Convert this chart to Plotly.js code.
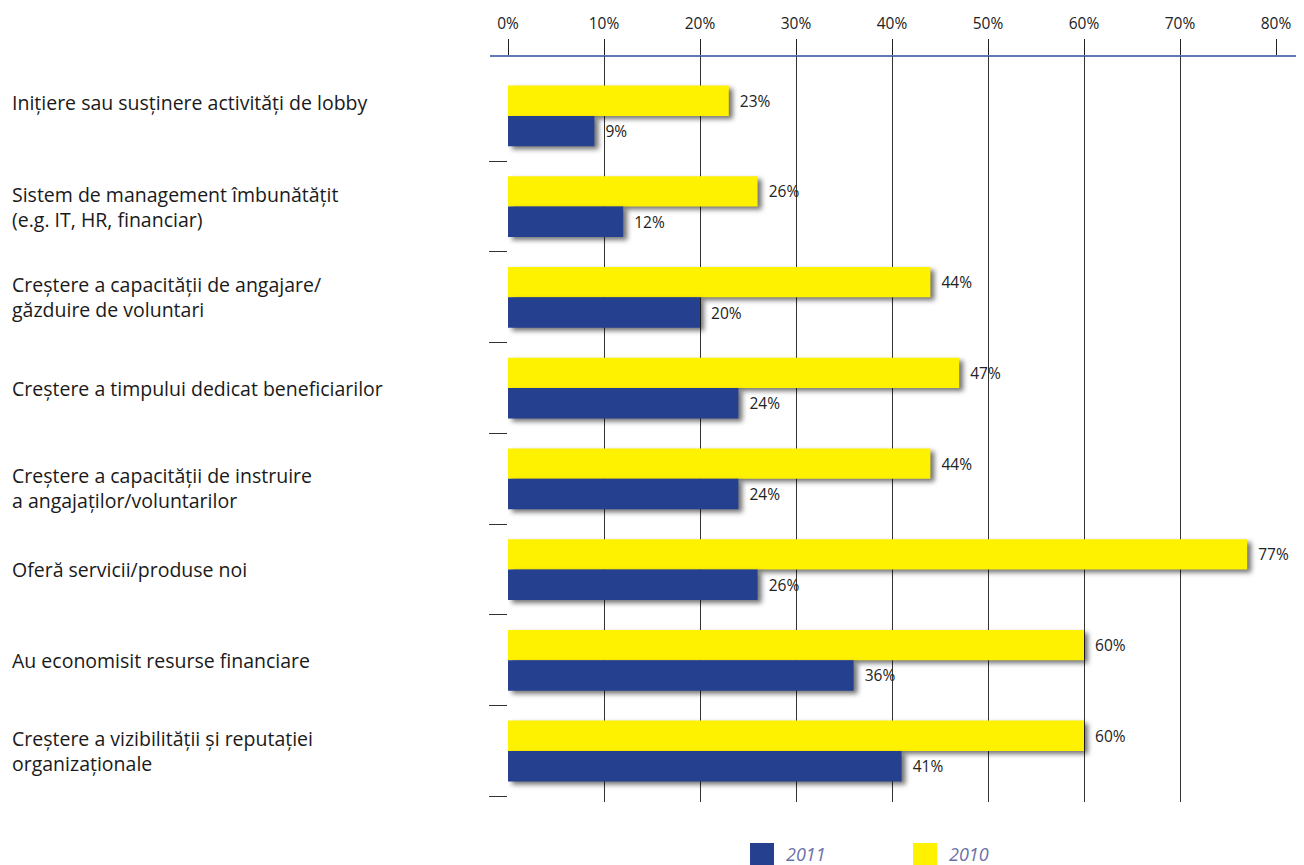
<!DOCTYPE html>
<html>
<head>
<meta charset="utf-8">
<script src="https://cdn.plot.ly/plotly-3.0.1.min.js"></script>
<style>
  html, body { margin: 0; padding: 0; background: #fff; }
  #chart { width: 1304px; height: 865px; }
  .barlayer .point path { filter: drop-shadow(4px 3px 2.5px rgba(0,0,0,0.55)); }
</style>
</head>
<body>
<div id="chart"></div>
<script>
// ---- data ----
const categories = [
  "Inițiere sau susținere activități de lobby",
  "Sistem de management îmbunătățit<br>(e.g. IT, HR, financiar)",
  "Creștere a capacității de angajare/<br>găzduire de voluntari",
  "Creștere a timpului dedicat beneficiarilor",
  "Creștere a capacității de instruire<br>a angajaților/voluntarilor",
  "Oferă servicii/produse noi",
  "Au economisit resurse financiare",
  "Creștere a vizibilității și reputației<br>organizaționale"
];
const values2010 = [23, 26, 44, 47, 44, 77, 60, 60];
const values2011 = [9, 12, 20, 24, 24, 26, 36, 41];
const seriesNames = ["2010", "2011"];
const xTickVals = [0, 10, 20, 30, 40, 50, 60, 70, 80];
const xTickText = ["0%", "10%", "20%", "30%", "40%", "50%", "60%", "70%", "80%"];

// ---- styling ----
const FONT = "'Open Sans', Lato, sans-serif";
const BLUE = "#25408f";
const YELLOW = "#fff200";
const yIdx = categories.map((c, i) => i);
const pctText = vals => vals.map(v => "\u00a0\u00a0" + v + "%");

const common = {
  type: "bar",
  orientation: "h",
  y: yIdx,
  textposition: "outside",
  cliponaxis: false,
  constraintext: "none",
  textfont: { family: FONT, size: 15.5, color: "#222" },
  hoverinfo: "x+name",
  showlegend: false
};

const traces = [
  Object.assign({}, common, { name: seriesNames[0], x: values2010, text: pctText(values2010), marker: { color: YELLOW } }),
  Object.assign({}, common, { name: seriesNames[1], x: values2011, text: pctText(values2011), marker: { color: BLUE } })
];

const W = 1304, H = 865;
const L = 508, R = 28, T = 56, B = 63;
const plotW = W - L - R, plotH = H - T - B;
const px2paperX = p => (p - L) / plotW;
const px2paperY = p => 1 - (p - T) / plotH;

const labelShift = { 0: 13, 4: -9 };
const annotations = categories.map((c, i) => ({
  xref: "paper", yref: "y",
  x: px2paperX(10), y: i,
  xanchor: "left", yanchor: "middle", align: "left",
  text: c, showarrow: false,
  yshift: labelShift[i] || 0,
  font: { family: FONT, size: 19.5, color: "#1a1a1a" }
}));

// manual legend
const legendItems = [
  { name: seriesNames[1], color: BLUE, x: 750 },
  { name: seriesNames[0], color: YELLOW, x: 913 }
];
const shapes = [
  { type: "line", xref: "paper", yref: "paper",
    x0: px2paperX(490), x1: px2paperX(1296), y0: 1, y1: 1,
    line: { color: "#2f4a9a", width: 1.5 } }
];
legendItems.forEach(it => {
  shapes.push({ type: "rect", xref: "paper", yref: "paper",
    x0: px2paperX(it.x), x1: px2paperX(it.x + 24),
    y0: px2paperY(866), y1: px2paperY(843),
    fillcolor: it.color, line: { width: 0 } });
  annotations.push({ xref: "paper", yref: "paper",
    x: px2paperX(it.x + 34), y: px2paperY(854),
    xanchor: "left", yanchor: "middle", showarrow: false,
    text: "<i>" + it.name + "</i>",
    font: { family: FONT, size: 18, color: "#6b70a8" } });
});

const layout = {
  width: W, height: H,
  margin: { l: L, r: R, t: T, b: B, pad: 0 },
  paper_bgcolor: "#fff", plot_bgcolor: "#fff",
  barmode: "group",
  bargap: 0.33,
  bargroupgap: 0,
  xaxis: {
    side: "top",
    range: [0, 80],
    tickvals: xTickVals, ticktext: xTickText,
    ticks: "outside", ticklen: 16, tickwidth: 1, tickcolor: "#222",
    ticklabelstandoff: 4,
    showgrid: true, gridcolor: "#333", gridwidth: 1,
    zeroline: false, showline: false,
    tickfont: { family: FONT, size: 15.5, color: "#222" },
    fixedrange: true
  },
  yaxis: {
    range: [7.562, -0.66],
    tickvals: [0.5, 1.5, 2.5, 3.5, 4.5, 5.5, 6.5, 7.5],
    ticks: "outside", ticklen: 18, tickwidth: 1, tickcolor: "#333",
    showticklabels: false, showgrid: false, zeroline: false, showline: false,
    fixedrange: true
  },
  annotations: annotations,
  shapes: shapes,
  showlegend: false
};

Plotly.newPlot("chart", traces, layout, { displayModeBar: false, staticPlot: true });
</script>
</body>
</html>
